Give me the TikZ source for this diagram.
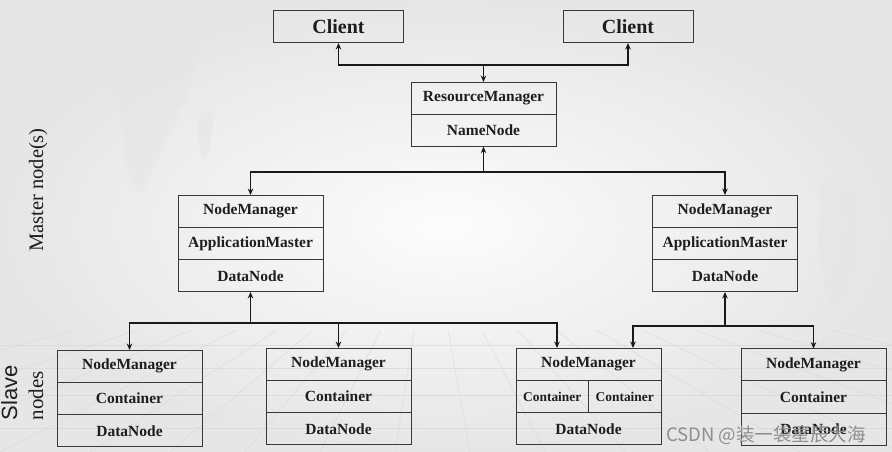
\documentclass[tikz,border=0pt]{standalone}
\usepackage{fontspec}
\setmainfont{Liberation Serif}
\newfontfamily\arialf{Liberation Sans}
\newfontfamily\cjkf{Noto Sans CJK SC}
\usetikzlibrary{arrows.meta,calc}
\definecolor{bgin}{HTML}{FCFCFC}
\definecolor{bgout}{HTML}{E6E6E6}
\definecolor{mapc}{HTML}{E6E6E6}
\definecolor{gridc}{HTML}{D8D8D8}
\definecolor{linec}{HTML}{383838}
\definecolor{textc}{HTML}{1E1E1E}
\definecolor{wmc}{HTML}{8E8E8E}
\begin{document}
\begin{tikzpicture}[x=1pt,y=-1pt,
  cell/.style={draw=linec, line width=1pt, minimum width=145pt, minimum height=32.3pt,
    inner sep=0pt, outer sep=0pt, text=textc, font=\fontsize{15.5}{18}\selectfont\bfseries},
  halfcell/.style={cell, minimum width=72.5pt, font=\fontsize{13.4}{16}\selectfont\bfseries},
  clientbox/.style={cell, minimum width=130pt, minimum height=32pt, font=\fontsize{20}{24}\selectfont\bfseries},
  conn/.style={draw=black!90, line width=1.4pt, -{Stealth[length=6.5pt,width=5.5pt]}},
  side/.style={text=textc, inner sep=0pt, outer sep=0pt},
  mapblob/.style={fill=mapc, draw=none, opacity=0.6, rounded corners=8pt},
]
\useasboundingbox (0,0) rectangle (892,452);
\shade[inner color=bgin, outer color=bgout] (0,0) rectangle (892,452);
% faint map silhouettes
\fill[mapblob] (50,0) -- (218,0) -- (212,25) -- (196,62) -- (186,100) -- (162,150) -- (140,198) -- (126,168) -- (120,110) -- (104,62) -- (72,36) -- cycle;
\fill[mapblob] (203,108) -- (214,112) -- (210,150) -- (202,162) -- (197,130) -- cycle;
\fill[mapblob] (780,0) -- (892,0) -- (892,120) -- (872,135) -- (850,120) -- (830,70) -- (800,40) -- cycle;
\fill[mapblob] (820,178) -- (858,190) -- (862,240) -- (845,300) -- (828,310) -- (818,250) -- cycle;
% faint perspective floor
\begin{scope}
\clip (0,330) rectangle (892,452);
\foreach \bx in {-900,-700,-520,-360,-220,-100,0,90,170,245,320,395,470,545,625,710,800,900,1020,1160,1320,1500}
  \draw[gridc, line width=0.6pt, opacity=0.7] (430,230) -- (\bx,452);
\foreach \gy in {345,368,395,428}
  \draw[gridc, line width=0.6pt, opacity=0.7] (0,\gy) -- (892,\gy);
\end{scope}
% clients
\node[clientbox] (cl1) at (338.5,27) {Client};
\node[clientbox] (cl2) at (628,27) {Client};
% resource manager
\node[cell] (rm1) at (483.5,98.2) {ResourceManager};
\node[cell] (rm2) at (483.5,130.5) {NameNode};
% master-side node managers
\node[cell] (ml1) at (250.5,211.2) {NodeManager};
\node[cell] (ml2) at (250.5,243.5) {ApplicationMaster};
\node[cell] (ml3) at (250.5,275.8) {DataNode};
\node[cell] (mr1) at (725,211.2) {NodeManager};
\node[cell] (mr2) at (725,243.5) {ApplicationMaster};
\node[cell] (mr3) at (725,275.8) {DataNode};
% slave nodes
\node[cell] (s1a) at (129.5,366.2) {NodeManager};
\node[cell] (s1b) at (129.5,398.5) {Container};
\node[cell] (s1c) at (129.5,430.8) {DataNode};
\node[cell] (s2a) at (338.5,364.2) {NodeManager};
\node[cell] (s2b) at (338.5,396.5) {Container};
\node[cell] (s2c) at (338.5,428.8) {DataNode};
\node[cell] (s3a) at (588.5,364.2) {NodeManager};
\node[halfcell] (s3b) at (552.25,396.5) {Container};
\node[halfcell] (s3c) at (624.75,396.5) {Container};
\node[cell] (s3d) at (588.5,428.8) {DataNode};
\node[cell] (s4a) at (813.5,364.7) {NodeManager};
\node[cell] (s4b) at (813.5,397) {Container};
\node[cell] (s4c) at (813.5,429.3) {DataNode};
% junctions
\coordinate (j1) at (483.5,65);
\coordinate (j2) at (483.5,172);
\coordinate (j3) at (250.5,323);
\coordinate (j4) at (725,326);
% connectors
\draw[conn] (j1) -- (rm1.north);
\draw[conn] (j1) -| (cl1.south);
\draw[conn] (j1) -| (cl2.south);
\draw[conn] (j2) -- (rm2.south);
\draw[conn] (j2) -| (ml1.north);
\draw[conn] (j2) -| (mr1.north);
\draw[conn] (j3) -- (ml3.south);
\draw[conn] (j3) -| (s1a.north);
\draw[conn] (j3) -| (s2a.north);
\draw[conn] (j3) -| ([xshift=-31.5pt]s3a.north);
\draw[conn] (j4) -- (mr3.south);
\draw[conn] (j4) -| ([xshift=44.5pt]s3a.north);
\draw[conn] (j4) -| (s4a.north);
% side labels
\node[side, rotate=90, anchor=base, font=\fontsize{20.5}{24}\selectfont] (master) at (43,190) {Master node(s)};
\node[side, rotate=90, anchor=base west, font=\arialf\fontsize{22}{26}\selectfont] (slave1) at (17,420) {Slave};
\node[side, rotate=90, anchor=base west, font=\fontsize{21}{25}\selectfont] (slave2) at (43,420) {nodes};
% watermark
\node[anchor=base west, inner sep=0pt, text=wmc, font=\cjkf\fontsize{18.5}{22}\selectfont] (wm) at (666,441) {CSDN @装一袋星辰大海};
\end{tikzpicture}
\end{document}
